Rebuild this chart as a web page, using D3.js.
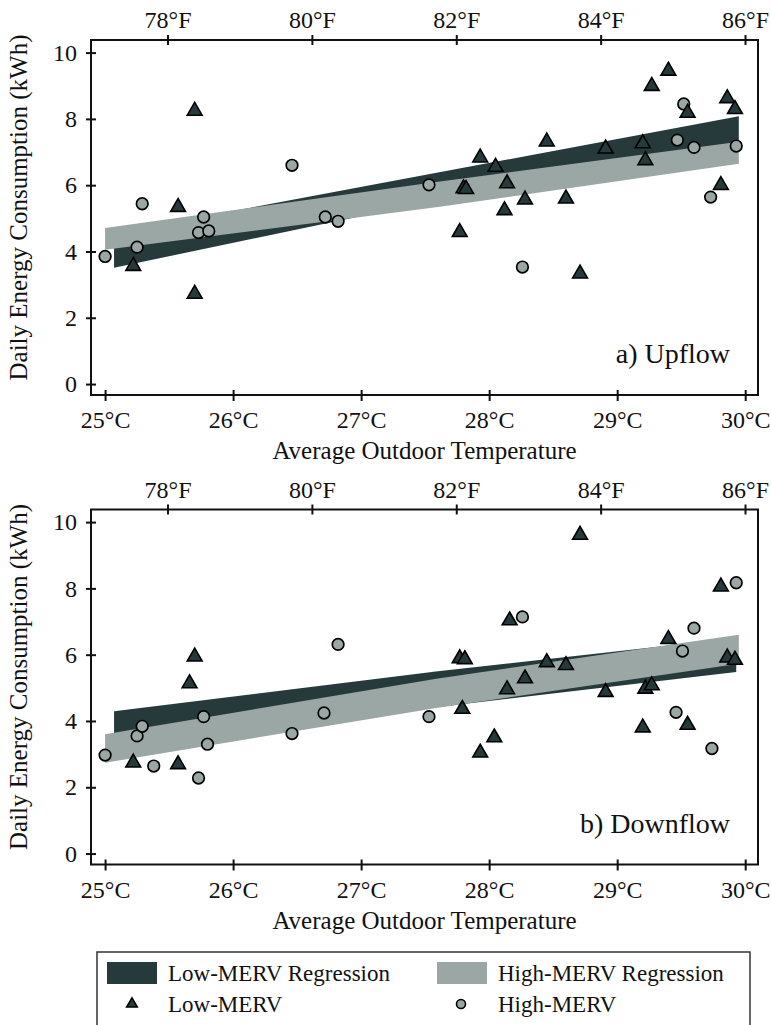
<!DOCTYPE html>
<html>
<head>
<meta charset="utf-8">
<script src="https://cdn.jsdelivr.net/npm/d3@7"></script>
<style>
	body { margin: 0; background: #fff; }
	text { font-family: "Liberation Serif", "Times New Roman", serif; fill: #111; }
</style>
</head>
<body>
<div id="chart"></div>
<script>
// axis ticks
var tickC = [25, 26, 27, 28, 29, 30];
var tickF = [78, 80, 82, 84, 86];
var tickE = [0, 2, 4, 6, 8, 10];

// a) Upflow
var upLowT = [25.22, 25.57, 25.70, 25.70, 27.77, 27.80, 27.82, 27.93, 28.05, 28.12, 28.14, 28.28,
	28.45, 28.60, 28.71, 28.91, 29.20, 29.22, 29.27, 29.40, 29.55, 29.81, 29.86, 29.92];
var upLowE = [3.56, 5.34, 8.24, 2.72, 4.58, 5.90, 5.88, 6.83, 6.55, 5.24, 6.05, 5.56,
	7.31, 5.59, 3.33, 7.10, 7.26, 6.75, 8.99, 9.45, 8.18, 6.00, 8.62, 8.29];
var upHighT = [25.00, 25.25, 25.29, 25.73, 25.77, 25.81, 26.46, 26.72, 26.82, 27.53, 28.26,
	29.47, 29.52, 29.60, 29.73, 29.93];
var upHighE = [3.85, 4.13, 5.44, 4.57, 5.04, 4.62, 6.60, 5.04, 4.91, 6.01, 3.53,
	7.36, 8.45, 7.14, 5.64, 7.18];
var upLowBandT = [25.07, 27.6, 29.95];
var upLowBandLo = [3.51, 5.55, 7.20];
var upLowBandHi = [4.55, 6.38, 8.08];
var upHighBandT = [25.0, 27.6, 29.95];
var upHighBandLo = [4.05, 5.34, 6.65];
var upHighBandHi = [4.71, 6.10, 7.31];

// b) Downflow
var downLowT = [25.22, 25.57, 25.66, 25.70, 27.77, 27.79, 27.81, 27.93, 28.04, 28.14, 28.16, 28.28,
	28.45, 28.60, 28.71, 28.91, 29.20, 29.22, 29.27, 29.40, 29.55, 29.81, 29.86, 29.92];
var downLowE = [2.74, 2.69, 5.13, 5.94, 5.89, 4.36, 5.86, 3.04, 3.50, 4.95, 7.03, 5.28,
	5.77, 5.68, 9.61, 4.87, 3.80, 4.97, 5.07, 6.47, 3.88, 8.05, 5.91, 5.84];
var downHighT = [25.00, 25.25, 25.29, 25.38, 25.73, 25.77, 25.80, 26.46, 26.71, 26.82, 27.53,
	28.26, 29.46, 29.51, 29.60, 29.74, 29.93];
var downHighE = [2.97, 3.55, 3.84, 2.64, 2.28, 4.13, 3.30, 3.62, 4.24, 6.31, 4.13,
	7.14, 4.26, 6.11, 6.80, 3.17, 8.17];
var downLowBandT = [25.07, 27.6, 29.93];
var downLowBandLo = [3.45, 4.42, 5.48];
var downLowBandHi = [4.29, 5.50, 6.50];
var downHighBandT = [25.0, 27.6, 29.95];
var downHighBandLo = [2.74, 4.40, 5.73];
var downHighBandHi = [3.60, 5.28, 6.60];

var W = 771, H = 1025,
	plotL = 91, plotR = 758, plotH = 355,
	darkCol = "#273a3b",
	lightCol = "#9aa7a4";

var x = d3.scaleLinear().domain([24.89, 30.10]).range([plotL, plotR]);
var xF = d3.scaleLinear().domain([76.94, 86.18]).range([plotL, plotR]);

var svg = d3.select("#chart").append("svg")
	.attr("width", W)
	.attr("height", H);

drawPanel(40, "a) Upflow",
	{t: upLowT, e: upLowE, bt: upLowBandT, lo: upLowBandLo, hi: upLowBandHi},
	{t: upHighT, e: upHighE, bt: upHighBandT, lo: upHighBandLo, hi: upHighBandHi});
drawPanel(509.5, "b) Downflow",
	{t: downLowT, e: downLowE, bt: downLowBandT, lo: downLowBandLo, hi: downLowBandHi},
	{t: downHighT, e: downHighE, bt: downHighBandT, lo: downHighBandLo, hi: downHighBandHi});
drawLegend();

function zip(a, b, c) {
	return a.map(function(d, i) { return c ? [d, b[i], c[i]] : [d, b[i]]; });
}

function drawPanel(top, label, low, high) {
	var y = d3.scaleLinear().domain([-0.33, 10.38]).range([top + plotH, top]);
	var g = svg.append("g");

	var area = d3.area()
		.x(function(d) { return x(d[0]); })
		.y0(function(d) { return y(d[1]); })
		.y1(function(d) { return y(d[2]); });

	// regression bands, light drawn over dark
	g.append("path").datum(zip(low.bt, low.lo, low.hi))
		.attr("d", area).style("fill", darkCol);
	g.append("path").datum(zip(high.bt, high.lo, high.hi))
		.attr("d", area).style("fill", lightCol);

	g.selectAll(".hi").data(zip(high.t, high.e))
		.enter().append("circle")
		.attr("class", "hi")
		.attr("cx", function(d) { return x(d[0]); })
		.attr("cy", function(d) { return y(d[1]); })
		.attr("r", 5.8)
		.style("fill", lightCol).style("stroke", "#000").style("stroke-width", 1.7);

	var tri = d3.symbol().type(d3.symbolTriangle).size(95);
	g.selectAll(".lo").data(zip(low.t, low.e))
		.enter().append("path")
		.attr("class", "lo")
		.attr("d", tri)
		.attr("transform", function(d) { return "translate(" + x(d[0]) + "," + y(d[1]) + ")"; })
		.style("fill", darkCol).style("stroke", "#000").style("stroke-width", 1.6);

	// frame
	g.append("rect")
		.attr("x", plotL).attr("y", top)
		.attr("width", plotR - plotL).attr("height", plotH)
		.style("fill", "none").style("stroke", "#111").style("stroke-width", 2);

	// axes
	var ax = g.append("g").attr("transform", "translate(0," + (top + plotH) + ")")
		.call(d3.axisBottom(x).tickValues(tickC).tickFormat(function(d) { return d + "°C"; }));
	var axF = g.append("g").attr("transform", "translate(0," + top + ")")
		.call(d3.axisTop(xF).tickValues(tickF).tickFormat(function(d) { return d + "°F"; }));
	var ay = g.append("g").attr("transform", "translate(" + plotL + ",0)")
		.call(d3.axisLeft(y).tickValues(tickE));

	[ax, axF, ay].forEach(function(a) {
		a.select(".domain").remove();
		a.selectAll(".tick line").style("stroke", "#111").style("stroke-width", 2);
		a.selectAll(".tick text").style("font-size", "24px").style("font-family", null).attr("fill", null);
	});
	ax.selectAll(".tick line").attr("y1", -5).attr("y2", 6);
	ax.selectAll(".tick text").attr("y", 33).attr("dy", null);
	axF.selectAll(".tick line").attr("y1", -5).attr("y2", 5);
	axF.selectAll(".tick text").attr("y", -12).attr("dy", null);
	ay.selectAll(".tick line").attr("x1", -5).attr("x2", 5);
	ay.selectAll(".tick text").attr("x", -14);

	g.append("text")
		.attr("x", (plotL + plotR) / 2 + 0)
		.attr("y", top + plotH + 64)
		.attr("text-anchor", "middle")
		.style("font-size", "25px")
		.text("Average Outdoor Temperature");

	g.append("text")
		.attr("transform", "translate(27," + (top + plotH / 2 - 10) + ") rotate(-90)")
		.attr("text-anchor", "middle")
		.style("font-size", "25px")
		.text("Daily Energy Consumption (kWh)");

	g.append("text")
		.attr("x", 730)
		.attr("y", top + plotH - 32)
		.attr("text-anchor", "end")
		.style("font-size", "28px")
		.text(label);
}

function drawLegend() {
	var lg = svg.append("g");
	lg.append("rect")
		.attr("x", 97).attr("y", 952)
		.attr("width", 653).attr("height", 90)
		.style("fill", "none").style("stroke", "#333").style("stroke-width", 1.5);

	var items = [
		{kind: "band", col: darkCol, x: 107, y: 973, name: "Low-MERV Regression"},
		{kind: "band", col: lightCol, x: 437, y: 973, name: "High-MERV Regression"},
		{kind: "tri", col: darkCol, x: 107, y: 1004, name: "Low-MERV"},
		{kind: "dot", col: lightCol, x: 437, y: 1004, name: "High-MERV"}
	];

	var it = lg.selectAll(".item").data(items)
		.enter().append("g")
		.attr("class", "item")
		.attr("transform", function(d) { return "translate(" + d.x + "," + d.y + ")"; });

	it.filter(function(d) { return d.kind == "band"; })
		.append("rect")
		.attr("x", 0).attr("y", -11).attr("width", 50).attr("height", 22)
		.style("fill", function(d) { return d.col; });
	it.filter(function(d) { return d.kind == "tri"; })
		.append("path")
		.attr("d", d3.symbol().type(d3.symbolTriangle).size(50))
		.attr("transform", "translate(25,0)")
		.style("fill", function(d) { return d.col; }).style("stroke", "#000").style("stroke-width", 1.5);
	it.filter(function(d) { return d.kind == "dot"; })
		.append("circle")
		.attr("cx", 24).attr("r", 4.5)
		.style("fill", function(d) { return d.col; }).style("stroke", "#000").style("stroke-width", 1.6);

	it.append("text")
		.attr("x", 61).attr("y", 8)
		.style("font-size", "23px")
		.text(function(d) { return d.name; });
}
</script>
</body>
</html>
